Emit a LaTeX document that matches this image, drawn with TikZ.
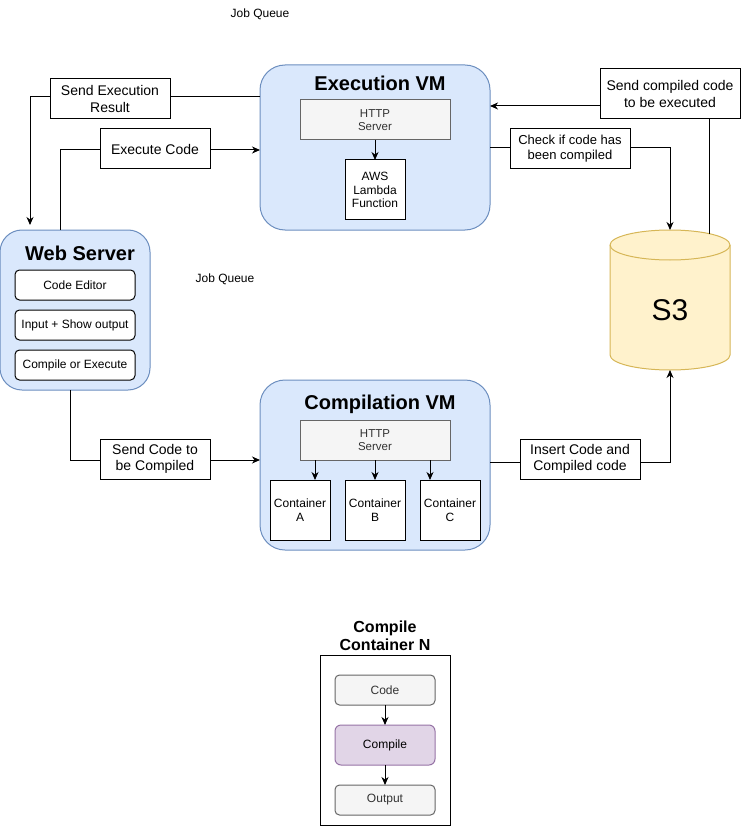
\documentclass[tikz,border=0pt]{standalone}
\usepackage{fontspec}
\setmainfont{Liberation Sans}
\usetikzlibrary{arrows.meta,positioning,calc}
\definecolor{vmfill}{HTML}{DAE8FC}
\definecolor{vmdraw}{HTML}{6C8EBF}
\definecolor{gfill}{HTML}{F5F5F5}
\definecolor{gdraw}{HTML}{666666}
\definecolor{gtext}{HTML}{333333}
\definecolor{pfill}{HTML}{E1D5E7}
\definecolor{pdraw}{HTML}{9673A6}
\definecolor{yfill}{HTML}{FFF2CC}
\definecolor{ydraw}{HTML}{D6B656}
\newcommand{\fs}[1]{\fontsize{#1pt}{\dimexpr #1pt*115/100\relax}\selectfont}
\tikzset{
  every node/.style={inner sep=0pt, outer sep=0pt},
  vm/.style={draw=vmdraw, fill=vmfill, line width=1pt},
  title/.style={font=\fs{20}\bfseries},
  http/.style={draw=gdraw, fill=gfill, line width=1pt, text=gtext, font=\fs{11.5}, align=center, minimum width=150pt, minimum height=40pt},
  plain/.style={draw=black, fill=white, line width=1pt, font=\fs{12}, align=center},
  inbox/.style={draw=black, fill=white, line width=1pt, rounded corners=4.5pt, font=\fs{12}, align=center, minimum width=120pt, minimum height=30pt},
  lbl/.style={draw=black, fill=white, line width=1pt, font=\fs{14}, align=center, minimum width=110pt, minimum height=40pt},
  arr/.style={draw=black, line width=1pt, -{Stealth[length=8pt,width=7pt,inset=2.5pt]}},
  ln/.style={draw=black, line width=1pt},
  gbox/.style={draw=gdraw, fill=gfill, text=gtext, line width=1pt, rounded corners=4.5pt, font=\fs{12}, minimum width=100pt, minimum height=30pt},
}
\begin{document}
\begin{tikzpicture}[x=1pt,y=-1pt]
\useasboundingbox (0,0) rectangle (741,826);

% Job Queue texts
\node[font=\fs{12}] (jq1) at (260,14) {Job Queue};
\node[font=\fs{12}] (jq2) at (225,279) {Job Queue};

% Execution VM
\node[vm, rounded corners=25pt, minimum width=230pt, minimum height=165pt] (exec) at (375,147.5) {};
\node[title] (exect) at (380,83) {Execution VM};
\node[http] (ehttp) at (375,120) {HTTP\\Server};
\node[plain, minimum width=60pt, minimum height=60pt] (lambda) at (375,190) {AWS\\Lambda\\Function};
\draw[arr] (ehttp) -- (lambda);

% Web Server
\node[vm, rounded corners=22pt, minimum width=150pt, minimum height=160pt] (web) at (75,310) {};
\node[title] (webt) at (80,253) {Web Server};
\node[inbox] (ed) at (75,285) {Code Editor};
\node[inbox] (io) at (75,325) {Input + Show output};
\node[inbox] (ce) at (75,365) {Compile or Execute};

% Compilation VM
\node[vm, rounded corners=25pt, minimum width=230pt, minimum height=170pt] (comp) at (375,465) {};
\node[title] (compt) at (380,404) {Compilation VM};
\node[http] (chttp) at (375,440) {HTTP\\Server};
\node[plain, minimum width=60pt, minimum height=60pt] (ca) at (300,510) {Container\\A};
\node[plain, minimum width=60pt, minimum height=60pt] (cb) at (375,510) {Container\\B};
\node[plain, minimum width=60pt, minimum height=60pt] (cc) at (450,510) {Container\\C};
\draw[arr] (chttp.south -| 315,0) -- (ca.north -| 315,0);
\draw[arr] (chttp.south -| 375,0) -- (cb.north -| 375,0);
\draw[arr] (chttp.south -| 430,0) -- (cc.north -| 430,0);

% S3 cylinder
\node[minimum width=120pt, minimum height=140pt] (s3) at (670,300) {};
\draw[draw=ydraw, fill=yfill, line width=1pt]
  (610,245) -- (610,355) arc[start angle=180, end angle=360, x radius=60, y radius=-15]
  -- (730,245) arc[start angle=0, end angle=180, x radius=60, y radius=-15] -- cycle;
\draw[draw=ydraw, line width=1pt] (610,245) arc[start angle=180, end angle=360, x radius=60, y radius=-15];
\node[font=\fs{30}] (s3t) at (670,310) {S3};
\coordinate (s3top) at (670,230);
\coordinate (s3src) at (709,234);

% Connectors
\draw[arr, shorten >=5pt] (exec.west |- 0,97) -| (web.north -| 30,0);
\node[lbl, minimum width=120pt] (l1) at (110,99) {Send Execution\\Result};

\draw[arr] (web.north -| 60,0) |- (exec.west |- 0,150);
\node[lbl] (l2) at (155,149) {Execute Code};

\draw[arr] (s3src) |- (exec.east |- 0,106);
\node[lbl, minimum width=140pt, minimum height=50pt] (l3) at (670,94) {Send compiled code\\to be executed};

\draw[arr] (exec.east |- 0,148) -| (s3top);
\node[lbl, font=\fs{13}, minimum width=120pt] (l4) at (570,149) {Check if code has\\been compiled};

\draw[arr] (web.south -| 70,0) |- (comp.west |- 0,460);
\node[lbl] (l5) at (155,459) {Send Code to\\be Compiled};

\draw[arr] (comp.east |- 0,462) -| (s3.south);
\node[lbl, minimum width=120pt] (l6) at (580,459) {Insert Code and\\Compiled code};

% Compile Container N
\node[font=\fs{16}\bfseries, align=center] (cnt) at (385,636) {Compile\\Container N};
\node[draw=black, fill=white, line width=1pt, minimum width=130pt, minimum height=170pt] (cn) at (385,740) {};
\node[gbox] (code) at (385,690) {Code};
\node[gbox, draw=pdraw, fill=pfill, text=black, rounded corners=6pt, minimum height=40pt] (cmp) at (385,745) {Compile};
\node[gbox] (out) at (385,800) {Output};
\draw[arr] (code) -- (cmp);
\draw[arr] (cmp) -- (out);
\end{tikzpicture}
\end{document}
